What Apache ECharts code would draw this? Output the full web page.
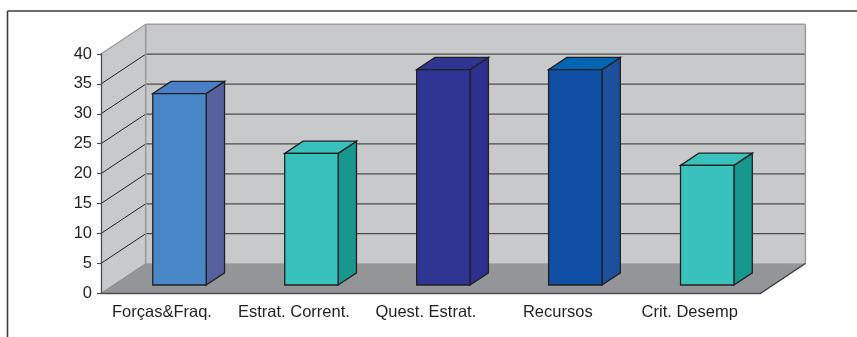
<!DOCTYPE html>
<html>
<head>
<meta charset="utf-8">
<script src="https://cdn.jsdelivr.net/npm/echarts@6/dist/echarts.min.js"></script>
<style>
  html, body { margin: 0; padding: 0; background: #fff; }
  #main { width: 857px; height: 337px; }
</style>
</head>
<body>
<div id="main"></div>
<script>
// data
var categories = ['Forças&Fraq.', 'Estrat. Corrent.', 'Quest. Estrat.', 'Recursos', 'Crit. Desemp'];
var values = [32, 22, 36, 36, 20];
var yMax = 40;
var yStep = 5;

// 3d look
var DX = 44.7, DY = 29.7;         // depth of the box in px
var D1 = 0.28, D2 = 0.69;         // bar front / back in depth fraction
var BAR_W = 0.405;                // bar width as share of the band
var WALL = '#c8c9cb', FLOOR = '#939598';
var barColors = [
    {front: '#4a87c6', side: '#57609d', top: '#4a7fc5'},
    {front: '#39c1bd', side: '#16988f', top: '#39c1bd'},
    {front: '#2e3592', side: '#2e3090', top: '#2f3590'},
    {front: '#0e4fa3', side: '#1e4f9d', top: '#0066b3'},
    {front: '#39c1bd', side: '#16988f', top: '#39c1bd'}
];

var line = function(x1, y1, x2, y2, color, width){
    return {
        type: 'line',
        shape: {x1: x1, y1: y1, x2: x2, y2: y2},
        style: {stroke: color, lineWidth: width}
    }
}

var renderBox = function(params, api){
    var cs = params.coordSys;
    var x0 = cs.x, x1 = cs.x + cs.width;
    var yb = api.coord([0, 0])[1];
    var yt = api.coord([0, yMax])[1];
    var kids = [];
    // back wall, side wall, floor
    kids.push({type: 'rect', shape: {x: x0 + DX, y: yt - DY, width: x1 - x0, height: yb - yt}, style: {fill: WALL}});
    kids.push({type: 'polygon', shape: {points: [[x0, yt], [x0 + DX, yt - DY], [x0 + DX, yb - DY], [x0, yb]]}, style: {fill: WALL}});
    kids.push({type: 'polygon', shape: {points: [[x0, yb], [x0 + DX, yb - DY], [x1 + DX, yb - DY], [x1, yb]]}, style: {fill: FLOOR}});
    // grid lines on the walls
    for (var v = yStep; v < yMax; v += yStep) {
        var y = api.coord([0, v])[1];
        kids.push(line(x0 + DX, y - DY, x1 + DX, y - DY, '#4d4d4d', 1.3));
        kids.push(line(x0, y, x0 + DX, y - DY, '#231f20', 1));
    }
    // edges
    kids.push(line(x0 + DX, yt - DY, x1 + DX, yt - DY, '#a0a0a2', 1.5));
    kids.push(line(x0, yt, x0 + DX, yt - DY, '#9a9a9c', 1.2));
    kids.push(line(x0 + DX, yt - DY, x0 + DX, yb - DY, '#9a9a9c', 1.5));
    kids.push(line(x1 + DX, yt - DY, x1 + DX, yb - DY, '#9a9a9c', 1.5));
    kids.push(line(x0 + DX, yb - DY, x1 + DX, yb - DY, '#a8a8aa', 1));
    kids.push(line(x0, yb, x0 + DX, yb - DY, '#8a8a8c', 1));
    kids.push(line(x1, yb, x1 + DX, yb - DY, '#333333', 1.2));
    return {type: 'group', children: kids};
}

var renderBar = function(params, api){
    var i = api.value(0);
    var c0 = api.coord([i, 0]);
    var c1 = api.coord([i, api.value(1)]);
    var w = api.size([1, 0])[0] * BAR_W;
    var left = c0[0] - w / 2 + D1 * DX;
    var right = left + w;
    var bottom = c0[1] - D1 * DY;
    var top = c1[1] - D1 * DY;
    var ddx = (D2 - D1) * DX, ddy = (D2 - D1) * DY;
    var col = barColors[i];
    var edge = {stroke: '#231f20', lineWidth: 1.3, lineJoin: 'miter'};
    return {
        type: 'group',
        children: [
            {type: 'polygon', shape: {points: [[right, bottom], [right + ddx, bottom - ddy], [right + ddx, top - ddy], [right, top]]},
             style: Object.assign({fill: col.side}, edge)},
            {type: 'polygon', shape: {points: [[left, top], [right, top], [right + ddx, top - ddy], [left + ddx, top - ddy]]},
             style: Object.assign({fill: col.top}, edge)},
            {type: 'rect', shape: {x: left, y: top, width: w, height: bottom - top},
             style: Object.assign({fill: col.front}, edge)}
        ]
    }
}

var dom = document.getElementById('main');
var myChart = echarts.init(dom, null, {renderer: 'canvas'});
var option = {
    animation: false,
    backgroundColor: '#fff',
    textStyle: {fontFamily: '"Liberation Sans", Arial, sans-serif'},
    grid: {left: 101, right: 96.3, top: 54, bottom: 43.7},
    graphic: [
        {type: 'line', shape: {x1: 7.5, y1: 11, x2: 857, y2: 11}, style: {stroke: '#3c3c3c', lineWidth: 1.6}},
        {type: 'line', shape: {x1: 7.5, y1: 11, x2: 7.5, y2: 337}, style: {stroke: '#3c3c3c', lineWidth: 1.6}}
    ],
    xAxis: {
        type: 'category',
        data: categories,
        boundaryGap: true,
        axisLine: {lineStyle: {color: '#4d4d4d', width: 1.3}},
        axisTick: {length: 4, lineStyle: {color: '#4d4d4d', width: 1.2}},
        axisLabel: {fontSize: 16.5, color: '#231f20', margin: 11, padding: [0, 10, 0, 0], interval: 0},
        splitLine: {show: false}
    },
    yAxis: {
        type: 'value',
        min: 0,
        max: yMax,
        interval: yStep,
        axisLine: {show: true, lineStyle: {color: '#4d4d4d', width: 1.3}},
        axisTick: {show: true, length: 4, lineStyle: {color: '#4d4d4d', width: 1.2}},
        axisLabel: {fontSize: 16.5, color: '#231f20', margin: 9},
        splitLine: {show: false}
    },
    series: [
        {
            type: 'custom',
            z: -1,
            clip: false,
            silent: true,
            renderItem: renderBox,
            data: [[0, 0]]
        },
        {
            type: 'custom',
            clip: false,
            renderItem: renderBar,
            data: values.map(function(v, i){ return [i, v] })
        }
    ]
};
myChart.setOption(option, true);
</script>
</body>
</html>
